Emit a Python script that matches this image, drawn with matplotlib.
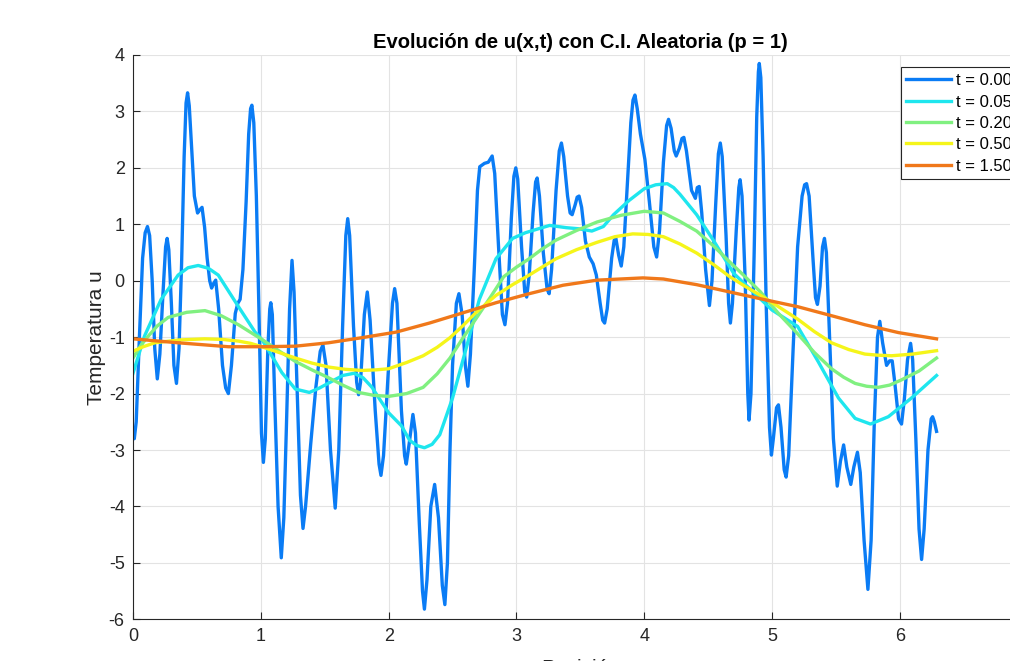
import matplotlib
matplotlib.use("Agg")
import matplotlib.pyplot as plt

plt.rcParams['font.family'] = ['Liberation Sans', 'DejaVu Sans']
plt.rcParams['axes.unicode_minus'] = False

# Condición inicial aleatoria, t = 0.00
x0 = [0.00, 0.01, 0.025, 0.05, 0.075, 0.095, 0.113, 0.13, 0.15, 0.17, 0.19,
      0.21, 0.235, 0.255, 0.267, 0.28, 0.30, 0.32, 0.34, 0.36, 0.38, 0.40,
      0.415, 0.427, 0.44, 0.46, 0.48, 0.505, 0.52, 0.54, 0.56, 0.58, 0.60,
      0.615, 0.63, 0.647, 0.67, 0.70, 0.725, 0.746, 0.77, 0.80, 0.82, 0.838,
      0.86, 0.885, 0.905, 0.92, 0.93, 0.945, 0.965, 0.985, 1.005, 1.02, 1.035,
      1.055, 1.07, 1.078, 1.09, 1.11, 1.135, 1.16, 1.18, 1.20, 1.225, 1.244,
      1.26, 1.285, 1.31, 1.33, 1.35, 1.39, 1.43, 1.465, 1.486, 1.51, 1.545,
      1.582, 1.61, 1.64, 1.665, 1.68, 1.695, 1.725, 1.75, 1.765, 1.78, 1.81,
      1.833, 1.855, 1.895, 1.925, 1.94, 1.96, 1.995, 2.03, 2.047, 2.065, 2.10,
      2.125, 2.138, 2.16, 2.19, 2.21, 2.24, 2.265, 2.28, 2.30, 2.33, 2.36,
      2.39, 2.42, 2.44, 2.46, 2.48, 2.50, 2.53, 2.55, 2.575, 2.60, 2.62, 2.64,
      2.67, 2.695, 2.713, 2.75, 2.78, 2.81, 2.83, 2.86, 2.89, 2.91, 2.93, 2.96,
      2.98, 2.995, 3.01, 3.04, 3.065, 3.08, 3.10, 3.13, 3.15, 3.162, 3.18,
      3.21, 3.24, 3.256, 3.275, 3.31, 3.335, 3.352, 3.37, 3.40, 3.42, 3.436,
      3.46, 3.475, 3.49, 3.51, 3.54, 3.57, 3.60, 3.625, 3.655, 3.675, 3.69,
      3.71, 3.745, 3.765, 3.778, 3.80, 3.82, 3.84, 3.87, 3.895, 3.912, 3.927,
      3.945, 3.97, 4.005, 4.04, 4.075, 4.097, 4.12, 4.15, 4.175, 4.19, 4.21,
      4.235, 4.25, 4.275, 4.295, 4.31, 4.33, 4.37, 4.40, 4.415, 4.43, 4.45,
      4.48, 4.51, 4.53, 4.56, 4.58, 4.595, 4.61, 4.64, 4.66, 4.674, 4.69,
      4.72, 4.74, 4.75, 4.765, 4.79, 4.81, 4.82, 4.835, 4.86, 4.88, 4.893,
      4.90, 4.912, 4.93, 4.955, 4.98, 4.995, 5.01, 5.035, 5.05, 5.07, 5.095,
      5.11, 5.13, 5.165, 5.20, 5.235, 5.255, 5.27, 5.29, 5.32, 5.34, 5.355,
      5.375, 5.395, 5.41, 5.425, 5.45, 5.48, 5.51, 5.535, 5.56, 5.585, 5.616,
      5.64, 5.668, 5.69, 5.72, 5.75, 5.775, 5.80, 5.825, 5.843, 5.865, 5.896,
      5.92, 5.94, 5.96, 5.99, 6.013, 6.035, 6.06, 6.084, 6.10, 6.125, 6.15,
      6.17, 6.19, 6.22, 6.245, 6.256, 6.27, 6.287]
u0 = [-2.73, -2.80, -2.50, -1.00, 0.40, 0.85, 0.96, 0.80, 0.00, -1.20, -1.74,
      -1.30, -0.20, 0.60, 0.75, 0.55, -0.40, -1.50, -1.82, -1.20, 0.30, 2.20,
      3.15, 3.33, 3.10, 2.30, 1.50, 1.20, 1.25, 1.30, 0.95, 0.40, 0.00,
      -0.13, -0.05, 0.01, -0.50, -1.50, -1.90, -2.00, -1.50, -0.58, -0.40,
      -0.33, 0.20, 1.40, 2.60, 3.05, 3.11, 2.80, 1.50, -0.50, -2.70, -3.22,
      -2.80, -1.20, -0.50, -0.39, -0.60, -2.20, -4.00, -4.91, -4.20, -2.60,
      -0.50, 0.36, -0.20, -2.00, -3.80, -4.39, -4.00, -2.90, -1.90, -1.25,
      -1.14, -1.50, -3.00, -4.03, -3.00, -0.80, 0.80, 1.10, 0.80, -0.80,
      -1.80, -2.02, -1.80, -0.60, -0.20, -0.70, -2.30, -3.25, -3.45, -3.10,
      -1.70, -0.40, -0.14, -0.40, -2.30, -3.10, -3.25, -2.90, -2.37, -2.70,
      -4.30, -5.50, -5.82, -5.30, -4.00, -3.61, -4.20, -5.40, -5.74, -5.00,
      -3.00, -1.50, -0.40, -0.23, -0.60, -1.50, -1.87, -1.30, 0.20, 1.60,
      2.02, 2.08, 2.10, 2.21, 1.90, 0.60, -0.60, -0.78, -0.40, 1.10, 1.85,
      2.00, 1.80, 0.60, -0.20, -0.29, 0.10, 1.20, 1.75, 1.82, 1.50, 0.50,
      -0.15, -0.23, 0.20, 1.60, 2.30, 2.44, 2.20, 1.50, 1.20, 1.17, 1.35,
      1.48, 1.50, 1.30, 0.70, 0.42, 0.30, 0.10, -0.40, -0.70, -0.75, -0.50,
      0.40, 0.72, 0.75, 0.45, 0.26, 0.60, 1.80, 2.80, 3.20, 3.29, 3.05, 2.60,
      2.15, 1.40, 0.60, 0.42, 0.90, 2.10, 2.75, 2.86, 2.70, 2.30, 2.21, 2.35,
      2.52, 2.54, 2.30, 1.60, 1.46, 1.65, 1.67, 1.20, 0.20, -0.44, 0.00, 1.40,
      2.25, 2.44, 2.20, 0.80, -0.40, -0.75, -0.40, 0.90, 1.65, 1.79, 1.50,
      0.00, -2.00, -2.47, -2.00, 0.50, 2.90, 3.70, 3.85, 3.60, 2.20, -0.50,
      -2.60, -3.09, -2.80, -2.25, -2.20, -2.60, -3.35, -3.48, -3.10, -1.20,
      0.60, 1.50, 1.70, 1.72, 1.50, 0.40, -0.30, -0.42, -0.10, 0.60, 0.75,
      0.50, -1.00, -2.80, -3.64, -3.20, -2.91, -3.30, -3.61, -3.30, -3.04,
      -3.40, -4.60, -5.47, -4.60, -2.50, -1.00, -0.72, -1.10, -1.50, -1.42,
      -1.42, -1.80, -2.45, -2.54, -2.10, -1.40, -1.11, -1.40, -2.80, -4.40,
      -4.94, -4.40, -3.00, -2.45, -2.41, -2.50, -2.67]

# t = 0.05
x1 = [0.00, 0.09, 0.22, 0.353, 0.43, 0.51, 0.59, 0.667, 0.825, 0.955, 1.008,
      1.165, 1.27, 1.38, 1.46, 1.55, 1.64, 1.73, 1.80, 1.87, 1.93, 2.00, 2.10,
      2.165, 2.22, 2.28, 2.34, 2.40, 2.50, 2.61, 2.71, 2.84, 2.97, 3.07,
      3.157, 3.26, 3.39, 3.49, 3.59, 3.68, 3.76, 3.88, 4.00, 4.09, 4.18, 4.23,
      4.28, 4.41, 4.54, 4.70, 4.88, 5.00, 5.20, 5.36, 5.52, 5.65, 5.77, 5.91,
      6.09, 6.287]
u1 = [-1.64, -0.98, -0.33, 0.10, 0.23, 0.27, 0.22, 0.10, -0.46, -0.91, -1.04,
      -1.63, -1.92, -1.98, -1.90, -1.79, -1.68, -1.64, -1.72, -1.89, -2.10,
      -2.34, -2.57, -2.83, -2.92, -2.96, -2.90, -2.73, -2.08, -1.17, -0.33,
      0.39, 0.75, 0.85, 0.91, 0.98, 0.94, 0.92, 0.88, 0.96, 1.17, 1.42, 1.63,
      1.70, 1.72, 1.65, 1.53, 1.17, 0.72, 0.13, -0.26, -0.52, -0.81, -1.43,
      -2.08, -2.44, -2.54, -2.41, -2.08, -1.68]

# t = 0.20
x2 = [0.00, 0.06, 0.12, 0.19, 0.275, 0.42, 0.563, 0.69, 0.825, 1.008, 1.14,
      1.27, 1.40, 1.53, 1.65, 1.765, 1.88, 2.00, 2.14, 2.27, 2.38, 2.48, 2.58,
      2.69, 2.80, 2.90, 3.00, 3.10, 3.20, 3.31, 3.47, 3.63, 3.82, 4.00, 4.15,
      4.28, 4.41, 4.54, 4.67, 4.79, 4.91, 5.05, 5.20, 5.33, 5.465, 5.56, 5.65,
      5.74, 5.83, 5.92, 6.01, 6.15, 6.287]
u2 = [-1.37, -1.15, -0.98, -0.80, -0.65, -0.56, -0.53, -0.62, -0.78, -1.04,
      -1.24, -1.43, -1.58, -1.72, -1.86, -1.98, -2.03, -2.05, -2.00, -1.89,
      -1.65, -1.37, -1.02, -0.65, -0.28, 0.07, 0.24, 0.39, 0.56, 0.72, 0.89,
      1.04, 1.16, 1.23, 1.20, 1.05, 0.88, 0.62, 0.33, 0.07, -0.20, -0.58,
      -0.94, -1.27, -1.56, -1.71, -1.82, -1.87, -1.89, -1.85, -1.76, -1.60,
      -1.37]

# t = 0.50
x3 = [0.00, 0.08, 0.17, 0.36, 0.56, 0.70, 0.825, 0.92, 1.008, 1.14, 1.27,
      1.40, 1.53, 1.66, 1.79, 1.90, 2.00, 2.14, 2.27, 2.38, 2.48, 2.58, 2.69,
      2.84, 2.97, 3.10, 3.20, 3.31, 3.47, 3.63, 3.77, 3.91, 4.03, 4.15, 4.28,
      4.41, 4.54, 4.67, 4.79, 4.91, 5.05, 5.20, 5.33, 5.465, 5.60, 5.726, 5.83,
      5.935, 6.10, 6.287]
u3 = [-1.25, -1.17, -1.10, -1.05, -1.03, -1.04, -1.07, -1.11, -1.17, -1.27,
      -1.37, -1.46, -1.53, -1.57, -1.59, -1.58, -1.56, -1.45, -1.33, -1.18,
      -1.01, -0.80, -0.55, -0.26, -0.07, 0.10, 0.24, 0.39, 0.55, 0.68, 0.78,
      0.83, 0.82, 0.78, 0.65, 0.49, 0.29, 0.07, -0.10, -0.26, -0.46, -0.68,
      -0.90, -1.10, -1.22, -1.30, -1.32, -1.33, -1.30, -1.24]

# t = 1.50
x4 = [0.00, 0.353, 0.746, 1.008, 1.27, 1.53, 1.79, 2.06, 2.32, 2.58, 2.84,
      3.10, 3.365, 3.63, 3.99, 4.15, 4.41, 4.67, 4.93, 5.20, 5.465, 5.726,
      5.99, 6.287]
u4 = [-1.03, -1.10, -1.17, -1.17, -1.16, -1.10, -1.01, -0.91, -0.75, -0.57,
      -0.39, -0.23, -0.08, 0.01, 0.05, 0.03, -0.07, -0.20, -0.33, -0.46,
      -0.62, -0.78, -0.92, -1.03]

labels = ['t = 0.00', 't = 0.05', 't = 0.20', 't = 0.50', 't = 1.50']
colors = ['#0a7cf5', '#1ee6ee', '#80f080', '#f5f51a', '#f0781a']

fig = plt.figure(figsize=(10.10, 6.61), dpi=100)
ax = fig.add_axes([0.1317, 0.0631, 0.8858, 0.8537])

for xs, us, c, lab in zip([x0, x1, x2, x3, x4], [u0, u1, u2, u3, u4], colors, labels):
    ax.plot(xs, us, color=c, linewidth=2.4, label=lab, solid_joinstyle='round')

ax.set_xlim(0, 7)
ax.set_ylim(-6, 4)
ax.set_xticks(range(0, 7))
ax.set_yticks(range(-6, 5))
ax.grid(True, color='#e3e3e3', linewidth=0.8)
ax.set_axisbelow(True)
ax.spines['top'].set_visible(False)
ax.spines['right'].set_visible(False)
for s in ['left', 'bottom']:
    ax.spines[s].set_color('#262626')
    ax.spines[s].set_linewidth(0.8)
ax.tick_params(direction='in', length=5, width=0.8, colors='#262626', labelsize=13, pad=6)

ax.set_title('Evolución de u(x,t) con C.I. Aleatoria (p = 1)', fontsize=14.5, fontweight='bold', pad=5)
ax.set_xlabel('Posición', fontsize=15, color='#262626', labelpad=10)
ax.set_ylabel('Temperatura u', fontsize=15, color='#262626', labelpad=2)

leg = ax.legend(loc='upper left', bbox_to_anchor=(0.858, 0.978), borderaxespad=0,
                fontsize=12, handlelength=2.7, handletextpad=0.3, labelspacing=0.38,
                fancybox=False, framealpha=1, edgecolor='#262626', borderpad=0.35)
leg.get_frame().set_linewidth(0.8)

fig.savefig('out.png', dpi=100)
